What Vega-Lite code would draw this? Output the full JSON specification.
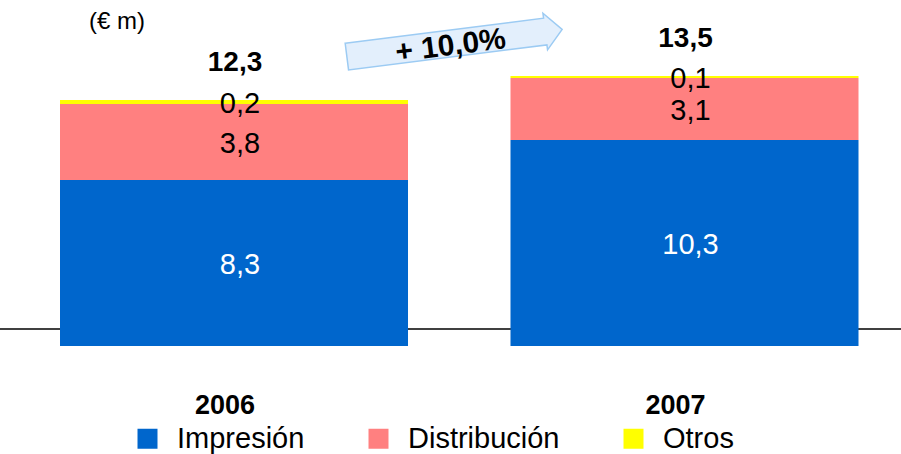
{
  "$schema": "https://vega.github.io/schema/vega-lite/v6.json",
  "width": 901,
  "height": 306,
  "autosize": {"type": "none"},
  "padding": {"left": 0, "right": 0, "top": 40, "bottom": 108},
  "title": {"text": "(€ m)", "anchor": "start", "frame": "group", "orient": "top", "dx": 89, "dy": 28, "offset": 4, "fontSize": 24, "fontWeight": "normal", "color": "black"},
  "config": {
    "font": "Liberation Sans",
    "view": {"stroke": null},
    "locale": {"number": {"decimal": ",", "thousands": ".", "grouping": [3], "currency": ["", " €"]}}
  },
  "data": {
    "values": [
      {"year": "2006", "seg": "Impresión", "value": 8.3},
      {"year": "2006", "seg": "Distribución", "value": 3.8},
      {"year": "2006", "seg": "Otros", "value": 0.2},
      {"year": "2007", "seg": "Impresión", "value": 10.3},
      {"year": "2007", "seg": "Distribución", "value": 3.1},
      {"year": "2007", "seg": "Otros", "value": 0.1}
    ]
  },
  "layer": [
    {
      "data": {"values": [{"note": "baseline"}]},
      "mark": {"type": "rule", "color": "black", "strokeWidth": 1.5},
      "encoding": {
        "y": {"datum": 0.85, "type": "quantitative", "axis": null}
      }
    },
    {
      "mark": {"type": "bar"},
      "encoding": {
        "x": {
          "field": "year", "type": "nominal", "title": null,
          "scale": {"range": [60, 858.5], "paddingInner": 0.2275, "paddingOuter": 0},
          "axis": {"title": null, "domain": false, "ticks": false, "grid": false, "labelAngle": 0, "labelFontSize": 27, "labelFontWeight": "bold", "labelColor": "black", "labelPadding": 46, "labelOffset": -9}
        },
        "y": {
          "field": "value", "type": "quantitative", "stack": "zero",
          "scale": {"domain": [0, 15.3], "nice": false, "zero": true},
          "axis": null
        },
        "color": {
          "field": "seg", "type": "nominal",
          "scale": {"domain": ["Impresión", "Distribución", "Otros"], "range": ["#0066CC", "#FF8080", "#FFFF00"]},
          "legend": {"orient": "none", "legendX": 133, "legendY": 384, "direction": "horizontal", "title": null, "symbolType": "square", "symbolSize": 400, "symbolStrokeWidth": 0, "symbolOpacity": 1, "labelFontSize": 29, "labelColor": "black", "labelOffset": 15, "columnPadding": 59, "padding": 0, "labelLimit": 400}
        },
        "order": {"field": "value", "sort": "descending"}
      }
    },
    {
      "mark": {"type": "text", "fontSize": 29, "baseline": "middle", "dx": 6, "dy": 2},
      "encoding": {
        "x": {"field": "year", "type": "nominal", "title": null},
        "y": {"field": "value", "type": "quantitative", "stack": "zero", "bandPosition": 0.5, "axis": null},
        "detail": {"field": "seg", "type": "nominal"},
        "order": {"field": "value", "sort": "descending"},
        "text": {"field": "value", "type": "quantitative", "format": ".1f"},
        "color": {"condition": {"test": "datum.seg === 'Impresión'", "value": "white"}, "value": "black"}
      }
    },
    {
      "mark": {"type": "text", "fontSize": 28, "fontWeight": "bold", "baseline": "middle", "dx": 1, "dy": -37, "color": "black"},
      "encoding": {
        "x": {"field": "year", "type": "nominal", "title": null},
        "y": {"aggregate": "sum", "field": "value", "type": "quantitative", "axis": null},
        "text": {"aggregate": "sum", "field": "value", "type": "quantitative", "format": ".1f"}
      }
    },
    {
      "data": {"values": [{"label": "+ 10,0%"}]},
      "mark": {
        "type": "point", "filled": true, "opacity": 1,
        "shape": "M-1,-0.124 L0.843,-0.124 L0.843,-0.17 L1,0 L0.843,0.17 L0.843,0.124 L-1,0.124 Z",
        "size": 47089, "angle": -7.2,
        "color": "#E3EFFC", "stroke": "#9CCBF3", "strokeWidth": 1.5
      },
      "encoding": {
        "x": {"datum": "2006", "type": "nominal", "bandPosition": 1.1336, "title": null},
        "y": {"datum": 15.15, "type": "quantitative", "axis": null}
      }
    },
    {
      "data": {"values": [{"label": "+ 10,0%"}]},
      "mark": {"type": "text", "fontSize": 30, "fontWeight": "bold", "angle": -7.2, "baseline": "middle", "color": "black"},
      "encoding": {
        "x": {"datum": "2006", "type": "nominal", "bandPosition": 1.1225, "title": null},
        "y": {"datum": 15.0, "type": "quantitative", "axis": null},
        "text": {"field": "label", "type": "nominal"}
      }
    }
  ]
}
